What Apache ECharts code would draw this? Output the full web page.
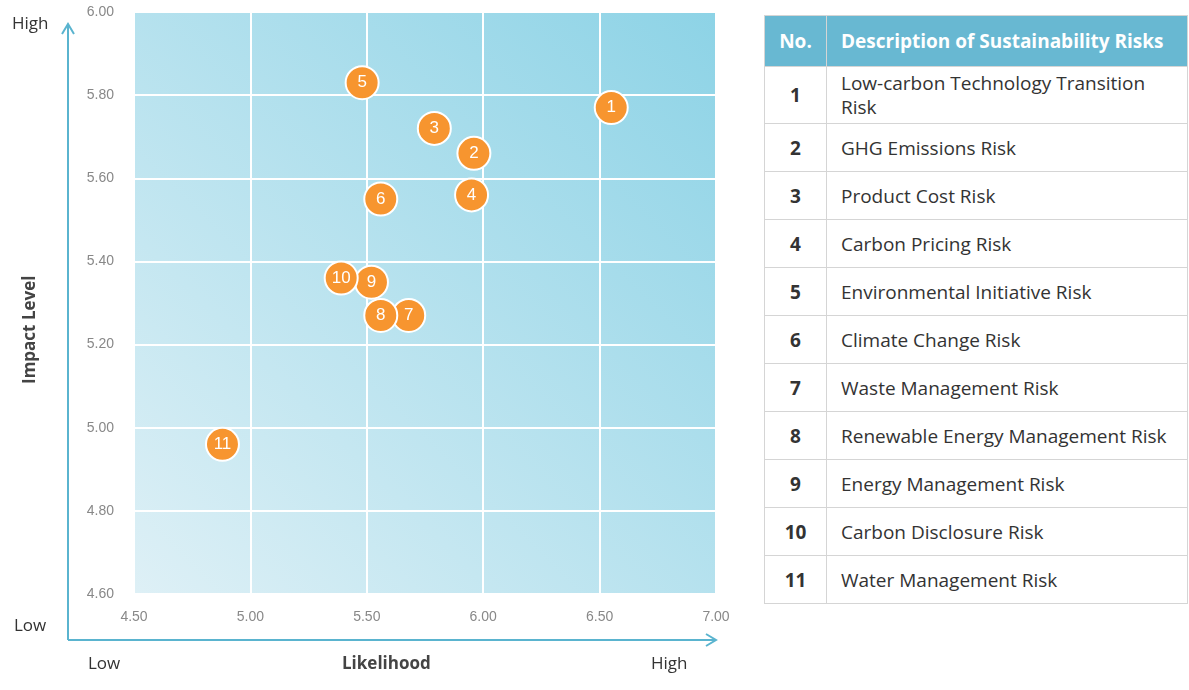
<!DOCTYPE html>
<html><head><meta charset="utf-8">
<script src="https://cdn.jsdelivr.net/npm/echarts@6/dist/echarts.min.js"></script>
<style>
body{margin:0;background:#fff;font-family:"Open Sans",sans-serif;}
#chart{position:absolute;left:0;top:0;width:750px;height:690px;}
table{position:absolute;left:764px;top:15px;width:424px;border-collapse:collapse;font-size:19px;color:#333;}
th{background:#68b8d2;color:#fff;height:48px;font-weight:bold;text-align:left;padding-left:14px;border:1px solid #d5d5d5;}
th.n{text-align:center;padding:0;}
td{border:1px solid #d5d5d5;padding:4px 14px;height:39px;line-height:24px;}
td.n{text-align:center;font-weight:bold;width:33px;}
</style></head><body>
<div id="chart"></div>
<table id="tbl"></table>
<script>
const ids = ["1","2","3","4","5","6","7","8","9","10","11"];
const likelihood = [6.55, 5.96, 5.79, 5.95, 5.48, 5.56, 5.68, 5.56, 5.52, 5.39, 4.88];
const impact = [5.77, 5.66, 5.72, 5.56, 5.83, 5.55, 5.27, 5.27, 5.35, 5.36, 4.96];
const risks = ["Low-carbon Technology Transition Risk","GHG Emissions Risk","Product Cost Risk","Carbon Pricing Risk","Environmental Initiative Risk","Climate Change Risk","Waste Management Risk","Renewable Energy Management Risk","Energy Management Risk","Carbon Disclosure Risk","Water Management Risk"];

let html = '<tr><th class="n">No.</th><th>Description of Sustainability Risks</th></tr>';
ids.forEach((id, i) => { html += `<tr><td class="n">${id}</td><td>${risks[i]}</td></tr>`; });
document.getElementById("tbl").innerHTML = html;

const chart = echarts.init(document.getElementById("chart"));
const axisCol = "#5ab4cf";
const txt = { fill: "#333", font: '17px "Open Sans"' };
chart.setOption({
  grid: { left: 134, top: 12, width: 582, height: 582,
    backgroundColor: new echarts.graphic.LinearGradient(0, 1, 1, 0, [
      { offset: 0, color: "#def0f6" }, { offset: 1, color: "#8dd3e6" }]) , show: true, borderWidth: 0 },
  xAxis: { type: "value", min: 4.5, max: 7, interval: 0.5,
    axisLine: { show: false }, axisTick: { show: false },
    splitLine: { lineStyle: { color: "#fff", width: 2 } },
    axisLabel: { color: "#888", fontSize: 14, margin: 16, formatter: v => v.toFixed(2) } },
  yAxis: { type: "value", min: 4.6, max: 6, interval: 0.2,
    axisLine: { show: false }, axisTick: { show: false },
    splitLine: { lineStyle: { color: "#fff", width: 2 } },
    axisLabel: { color: "#888", fontSize: 14, margin: 20, formatter: v => v.toFixed(2) } },
  series: [{
    type: "scatter", symbolSize: 33,
    data: ids.map((id, i) => [likelihood[i], impact[i], id]),
    itemStyle: { color: "#f7952f", borderColor: "#fff", borderWidth: 2, opacity: 1 },
    label: { show: true, formatter: p => p.value[2], color: "#fff", fontSize: 17 }
  }],
  graphic: [
    { type: "polyline", shape: { points: [[68, 640], [68, 24]] }, style: { stroke: axisCol, lineWidth: 2 } },
    { type: "polyline", shape: { points: [[62, 34], [68, 24], [74, 34]] }, style: { stroke: axisCol, lineWidth: 2, fill: null } },
    { type: "polyline", shape: { points: [[68, 640], [716, 640]] }, style: { stroke: axisCol, lineWidth: 2 } },
    { type: "polyline", shape: { points: [[706, 634], [716, 640], [706, 646]] }, style: { stroke: axisCol, lineWidth: 2, fill: null } },
    { type: "text", left: 12, top: 16, style: Object.assign({ text: "High" }, txt) },
    { type: "text", left: 14, top: 618, style: Object.assign({ text: "Low" }, txt) },
    { type: "text", left: 88, top: 656, style: Object.assign({ text: "Low" }, txt) },
    { type: "text", left: 651, top: 656, style: Object.assign({ text: "High" }, txt) },
    { type: "text", left: 342, top: 656, style: { text: "Likelihood", fill: "#444", font: 'bold 17px "Open Sans"' } },
    { type: "text", x: 22, y: 384, rotation: Math.PI / 2, style: { text: "Impact Level", fill: "#444", font: 'bold 17px "Open Sans"' } }
  ]
});
</script></body></html>
